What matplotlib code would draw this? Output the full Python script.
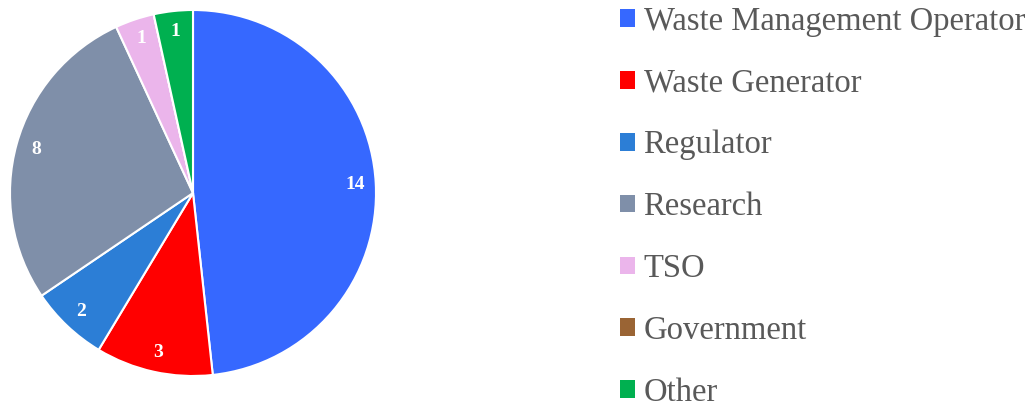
import matplotlib.pyplot as plt
from matplotlib.patches import Patch

labels = ['Waste Management Operator', 'Waste Generator', 'Regulator', 'Research',
          'TSO', 'Government', 'Other']
values = [14, 3, 2, 8, 1, 0, 1]
colors = ['#3668FF', '#FF0000', '#2C7ED6', '#7F8FA9', '#EBB5EB', '#9A6434', '#00B050']

plt.rcParams['font.family'] = ['Liberation Serif', 'DejaVu Serif']

fig = plt.figure(figsize=(10.34, 4.03), dpi=100)
ax = fig.add_axes([10 / 1034, 27 / 403, 366 / 1034, 366 / 403])

wedges, texts, autotexts = ax.pie(
    values, colors=colors, startangle=90, counterclock=False,
    autopct=lambda p: '' if p < 0.5 else '%d' % round(p * sum(values) / 100),
    pctdistance=0.89,
    wedgeprops=dict(edgecolor='white', linewidth=1.5),
    textprops=dict(color='white', fontsize=14, fontweight='bold'))
ax.set_xlim(-1, 1)
ax.set_ylim(-1, 1)
ax.set_aspect('equal')

handles = [Patch(facecolor=c, edgecolor='none') for c in colors]
fig.legend(handles, labels, loc='upper left', bbox_to_anchor=(607 / 1034, 1.017),
           frameon=False, fontsize=23.5, labelcolor='#595959',
           handlelength=0.45, handleheight=0.45, handletextpad=0.27,
           labelspacing=0.96, borderaxespad=0)

fig.savefig('out.png', dpi=100)
